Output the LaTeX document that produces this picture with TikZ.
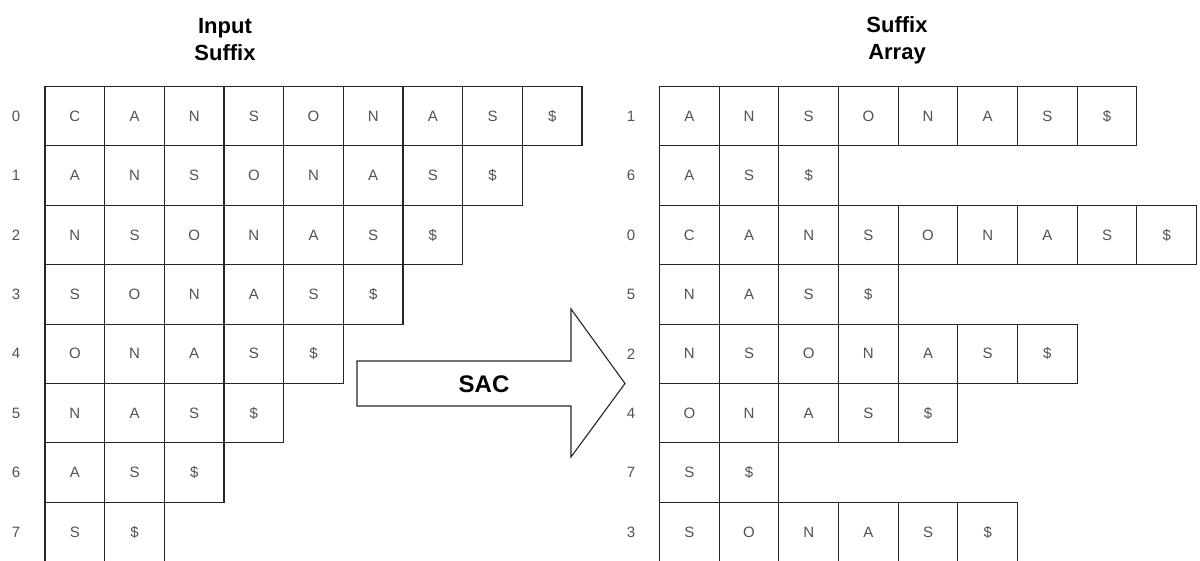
\documentclass[tikz,border=0pt]{standalone}
\usepackage{fontspec}
\setmainfont{Liberation Sans}
\begin{document}
\begin{tikzpicture}[x=1pt,y=-1pt,
  cell/.style={draw=black!85, line width=1.1pt, minimum width=59.67pt,
    minimum height=59.4pt, inner sep=0pt, outer sep=0pt, anchor=north west,
    font=\fontsize{15}{15}\selectfont, text=black!68},
  idx/.style={font=\fontsize{15}{15}\selectfont, text=black!68, inner sep=0pt},
  heading/.style={font=\bfseries\fontsize{22}{27}\selectfont, align=center, inner sep=0pt}]
\useasboundingbox (0,0) rectangle (1200,561);

% headings
\node[heading] (inTitle) at (225,40) {Input\\Suffix};
\node[heading] (saTitle) at (897,40) {Suffix\\Array};

% all suffixes of the input, in text order
\foreach \row/\lab/\word in {
  0/0/{C,A,N,S,O,N,A,S,\$},
  1/1/{A,N,S,O,N,A,S,\$},
  2/2/{N,S,O,N,A,S,\$},
  3/3/{S,O,N,A,S,\$},
  4/4/{O,N,A,S,\$},
  5/5/{N,A,S,\$},
  6/6/{A,S,\$},
  7/7/{S,\$}} {
  \node[idx] (Li\row) at (16,{86.5+59.4*\row+29.7}) {\lab};
  \foreach \ch [count=\c from 0] in \word {
    \node[cell] (L\row-\c) at ({45+59.67*\c},{86.5+59.4*\row}) {\ch};
  }
}

% the same suffixes, sorted
\foreach \row/\lab/\word in {
  0/1/{A,N,S,O,N,A,S,\$},
  1/6/{A,S,\$},
  2/0/{C,A,N,S,O,N,A,S,\$},
  3/5/{N,A,S,\$},
  4/2/{N,S,O,N,A,S,\$},
  5/4/{O,N,A,S,\$},
  6/7/{S,\$},
  7/3/{S,O,N,A,S,\$}} {
  \node[idx] (Ri\row) at (631,{86.5+59.4*\row+29.7}) {\lab};
  \foreach \ch [count=\c from 0] in \word {
    \node[cell] (R\row-\c) at ({659.5+59.67*\c},{86.5+59.4*\row}) {\ch};
  }
}

% block arrow between the two tables
\draw[draw=black!85, line width=1.1pt, line join=miter]
  (357,361) -- (571,361) -- (571,309) -- (625,383.5) -- (571,457)
  -- (571,406) -- (357,406) -- cycle;
\node[font=\bfseries\fontsize{24}{24}\selectfont, inner sep=0pt] (sac) at (484,384) {SAC};
\end{tikzpicture}
\end{document}
